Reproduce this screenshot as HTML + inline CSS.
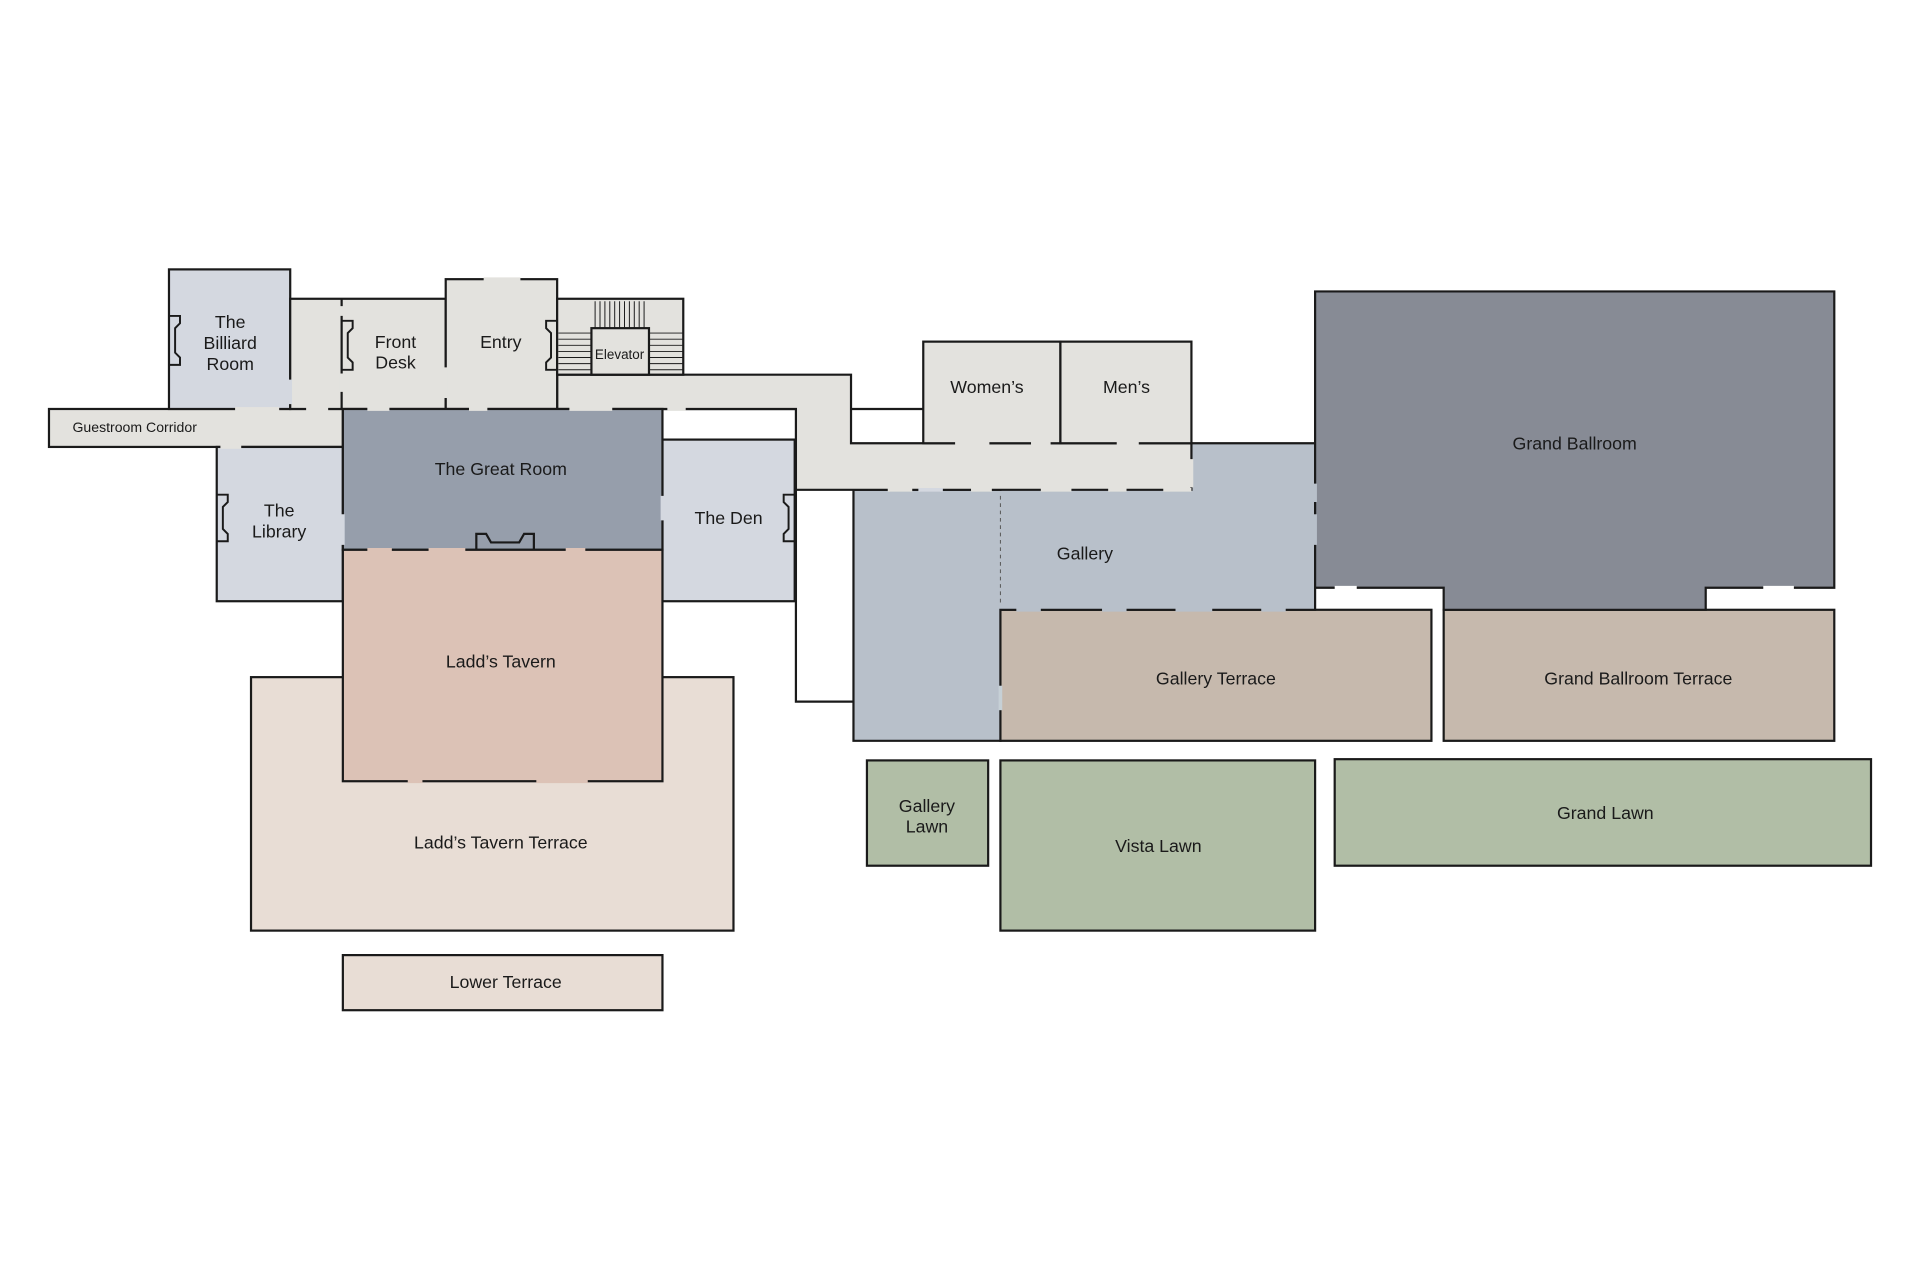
<!DOCTYPE html>
<html><head><meta charset="utf-8"><style>html,body{margin:0;padding:0;background:#fff;width:1920px;height:1280px;overflow:hidden}svg{display:block}text{font-family:"Liberation Sans",sans-serif;fill:#1a1a1a;text-anchor:middle}</style></head>
<body>
<svg width="1920" height="1280" viewBox="0 0 1568 1045.33" preserveAspectRatio="none" xmlns="http://www.w3.org/2000/svg">
<g stroke="#1a1a1a" stroke-width="1.8">
<rect x="205" y="553" width="394" height="207" fill="#e8ddd5"/>
<rect x="280" y="780" width="261" height="45" fill="#e8ddd5"/>
<rect x="708" y="621" width="99" height="86" fill="#b1bea6"/>
<rect x="817" y="621" width="257" height="139" fill="#b1bea6"/>
<rect x="1090" y="620" width="438" height="87" fill="#b1bea6"/>
<rect x="817" y="498" width="352" height="107" fill="#c6b9ad"/>
<rect x="1179" y="498" width="319" height="107" fill="#c6b9ad"/>
<path d="M697 400 H817 V362 H1074 V498 H817 V605 H697 Z" fill="#b8c0ca"/>
<path d="M1074 238 H1498 V480 H1393 V498 H1179 V480 H1074 Z" fill="#878b95"/>
<path d="M650 400 V573 H697" fill="none"/>
<path d="M541 334 H650" fill="none"/>
<path d="M695 334 H754" fill="none"/>
<path d="M455 306 H695 V362 H973 V400 H650 V334 H455 Z" fill="#e3e2de"/>
<rect x="40" y="334" width="240" height="31" fill="#e3e2de"/>
<rect x="138" y="220" width="99" height="114" fill="#d4d8e0"/>
<rect x="237" y="244" width="127" height="90" fill="#e3e2de"/>
<path d="M279 244V334" fill="none"/>
<rect x="364" y="228" width="91" height="106" fill="#e3e2de"/>
<rect x="455" y="244" width="103" height="62" fill="#e3e2de"/>
<rect x="483" y="268" width="47" height="38" fill="#e3e2de"/>
<rect x="754" y="279" width="112" height="83" fill="#e3e2de"/>
<rect x="866" y="279" width="107" height="83" fill="#e3e2de"/>
<rect x="177" y="365" width="103" height="126" fill="#d4d8e0"/>
<rect x="541" y="359" width="108" height="132" fill="#d4d8e0"/>
<rect x="280" y="334" width="261" height="115" fill="#969eab"/>
<rect x="280" y="449" width="261" height="189" fill="#dcc2b6"/>
<path d="M389 449 V436 H397 L401 443 H424 L428 436 H436 V449" fill="none"/>
</g>
<g stroke="#1a1a1a" stroke-width="0.8">
<path d="M486 246V268M490 246V268M494 246V268M498 246V268M502 246V268M506 246V268M510 246V268M514 246V268M518 246V268M522 246V268M526 246V268"/>
<path d="M456 272H483M456 277H483M456 282H483M456 287H483M456 292H483M456 297H483M456 302H483M530 272H558M530 277H558M530 282H558M530 287H558M530 292H558M530 297H558M530 302H558"/>
</g>
<g stroke-width="3">
<path stroke="#e3e2de" d="M192 334H228M250 334H268M300 334H318M383 334H398M465 334H500M545 334H560M395 228H425M279 305V320M279 250V258M364 300V325M180 365H197"/>
<path stroke="#d4d8e0" d="M237 310V330M280 420V445M541 405V425M750 400H770"/>
<path stroke="#e3e2de" d="M780 362H808M842 362H858M912 362H930M725 400H745M793 400H810M850 400H875M905 400H920M950 400H973M973 375V398"/>
<path stroke="#b8c0ca" d="M830 498H850M900 498H920M960 498H990M1030 498H1050M1074 420V445M1074 395V410"/>
<path stroke="#c6d0d6" d="M817 560V580"/>
<path stroke="#dcc2b6" d="M333 638H345M438 638H480M300 449H320M350 449H380M462 449H478"/>
<path stroke="#fff" d="M1090 480H1108M1440 480H1465"/>
</g>
<path d="M817 405V495" stroke="#555" stroke-width="0.8" stroke-dasharray="3,3"/>
<g stroke="#1a1a1a" stroke-width="1.6" fill="none">
<path d="M138 258H147V264L143 268V288L147 292V298H138"/>
<path d="M279 262H288V268L284 272V292L288 296V302H279"/>
<path d="M455 262H446V268L450 272V292L446 296V302H455"/>
<path d="M177 404H186V410L182 414V432L186 436V442H177"/>
<path d="M649 404H640V410L644 414V432L640 436V442H649"/>
</g>
<g font-size="14.5">
<text x="188" y="268">The</text><text x="188" y="285">Billiard</text><text x="188" y="302">Room</text>
<text x="323" y="284">Front</text><text x="323" y="301">Desk</text>
<text x="409" y="284">Entry</text>
<text x="806" y="321">Women’s</text><text x="920" y="321">Men’s</text>
<text x="1286" y="367">Grand Ballroom</text>
<text x="409" y="388">The Great Room</text>
<text x="228" y="422">The</text><text x="228" y="439">Library</text>
<text x="595" y="428">The Den</text>
<text x="886" y="457">Gallery</text>
<text x="409" y="545">Ladd’s Tavern</text>
<text x="993" y="559">Gallery Terrace</text>
<text x="1338" y="559">Grand Ballroom Terrace</text>
<text x="757" y="663">Gallery</text><text x="757" y="680">Lawn</text>
<text x="1311" y="669">Grand Lawn</text>
<text x="946" y="696">Vista Lawn</text>
<text x="409" y="693">Ladd’s Tavern Terrace</text>
<text x="413" y="807">Lower Terrace</text>
</g>
<text x="110" y="353" font-size="11.5">Guestroom Corridor</text>
<text x="506" y="293" font-size="11">Elevator</text>
</svg>
</body></html>
